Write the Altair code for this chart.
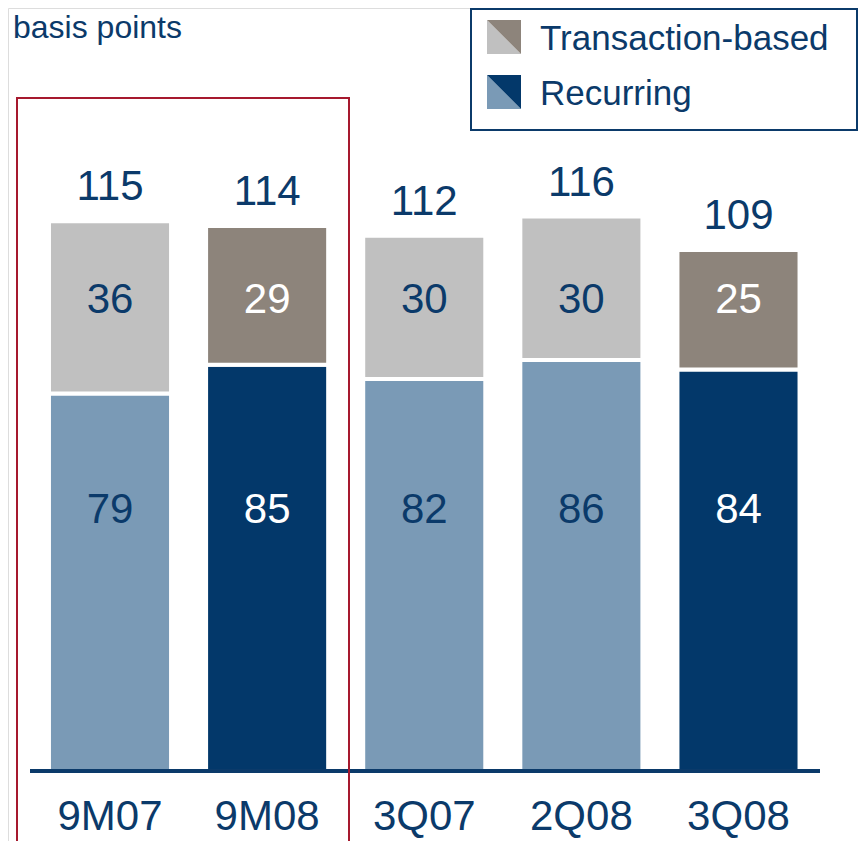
import altair as alt
import pandas as pd

# ---- data ----
categories = ["9M07", "9M08", "3Q07", "2Q08", "3Q08"]
recurring = [79, 85, 82, 86, 84]
transaction = [36, 29, 30, 30, 25]
totals = [115, 114, 112, 116, 109]
current = [False, True, False, False, True]   # highlighted (dark) periods

BLUE_TXT = "#0b3a6a"
REC_LIGHT, REC_DARK = "#7a9ab6", "#03386a"
TRX_LIGHT, TRX_DARK = "#c0c0c0", "#8d847b"

rows = []
for i, c in enumerate(categories):
    rows.append(dict(cat=c, series="Recurring", order=0, value=recurring[i],
                     fill=REC_DARK if current[i] else REC_LIGHT,
                     tcolor="white" if current[i] else BLUE_TXT))
    rows.append(dict(cat=c, series="Transaction-based", order=1, value=transaction[i],
                     fill=TRX_DARK if current[i] else TRX_LIGHT,
                     tcolor="white" if current[i] else BLUE_TXT))
df = pd.DataFrame(rows)
df_tot = pd.DataFrame({"cat": categories, "total": totals})
one = pd.DataFrame({"a": [0]})

FONT = "Liberation Sans"
W, H = 850, 833
k = 4.78
ymax = 763 / k
ymin = -(H - 763) / k

xsc = alt.Scale(domain=categories, range=[23.45, 809.05], paddingInner=0.223, paddingOuter=0.1115)
ysc = alt.Scale(domain=[ymin, ymax], nice=False, zero=False)

X = alt.X("cat:N", scale=xsc, axis=None, sort=categories)

bars = alt.Chart(df).mark_bar(stroke="white", strokeWidth=4).encode(
    x=X,
    y=alt.Y("sum(value):Q", scale=ysc, axis=None, stack="zero"),
    fill=alt.Fill("fill:N", scale=None),
    order=alt.Order("order:Q"),
    detail="series:N",
)

rec_lbl = alt.Chart(df[df.series == "Recurring"]).mark_text(
    font=FONT, fontSize=42, baseline="middle", align="center"
).encode(x=X, y=alt.value(502), text="value:Q", color=alt.Color("tcolor:N", scale=None))

trx_lbl = alt.Chart(df[df.series == "Transaction-based"]).mark_text(
    font=FONT, fontSize=42, baseline="middle", align="center"
).encode(x=X, y=alt.value(292), text="value:Q", color=alt.Color("tcolor:N", scale=None))

tot_lbl = alt.Chart(df_tot).mark_text(
    font=FONT, fontSize=42, baseline="middle", align="center", dy=-34, color=BLUE_TXT
).encode(x=X, y=alt.Y("total:Q", scale=ysc, axis=None), text="total:Q")

cat_lbl = alt.Chart(df_tot).mark_text(
    font=FONT, fontSize=42, baseline="middle", align="center", color=BLUE_TXT
).encode(x=X, y=alt.value(809), text="cat:N")

axis_line = alt.Chart(one).mark_rule(color=BLUE_TXT, strokeWidth=4).encode(
    x=alt.value(22), x2=alt.value(812), y=alt.value(763)
)

red_box = alt.Chart(one).mark_rect(fillOpacity=0, stroke="#a6192e", strokeWidth=2).encode(
    x=alt.value(9), x2=alt.value(341), y=alt.value(90), y2=alt.value(860)
)

unit = alt.Chart(one).mark_text(
    font=FONT, fontSize=32, align="left", baseline="top", color=BLUE_TXT, text="basis points"
).encode(x=alt.value(5), y=alt.value(5))

leg_box = alt.Chart(one).mark_rect(fillOpacity=0, stroke=BLUE_TXT, strokeWidth=2).encode(
    x=alt.value(463), x2=alt.value(849), y=alt.value(1), y2=alt.value(122)
)

TR = "M-1,-1L1,-1L1,1Z"
BL = "M-1,-1L-1,1L1,1Z"
icons = []
for yy, light, dark in [(29, TRX_LIGHT, TRX_DARK), (84, REC_LIGHT, REC_DARK)]:
    icons.append(alt.Chart(one).mark_point(shape=BL, filled=True, opacity=1, size=1156, color=light)
                 .encode(x=alt.value(496), y=alt.value(yy)))
    icons.append(alt.Chart(one).mark_point(shape=TR, filled=True, opacity=1, size=1156, color=dark)
                 .encode(x=alt.value(496), y=alt.value(yy)))

leg_txt = []
for yy, t in [(29, "Transaction-based"), (84, "Recurring")]:
    leg_txt.append(alt.Chart(one).mark_text(
        font=FONT, fontSize=35, align="left", baseline="middle", color=BLUE_TXT, text=t
    ).encode(x=alt.value(532), y=alt.value(yy + 2)))

chart = alt.layer(
    bars, rec_lbl, trx_lbl, tot_lbl, cat_lbl, axis_line, red_box, unit, leg_box, *icons, *leg_txt
).properties(
    width=W, height=H, padding=0, autosize=alt.AutoSizeParams(type="none")
).configure_view(strokeWidth=0, stroke="transparent").configure(background="transparent")

chart.save("out.html", embed_options={"renderer": "svg", "actions": False})
